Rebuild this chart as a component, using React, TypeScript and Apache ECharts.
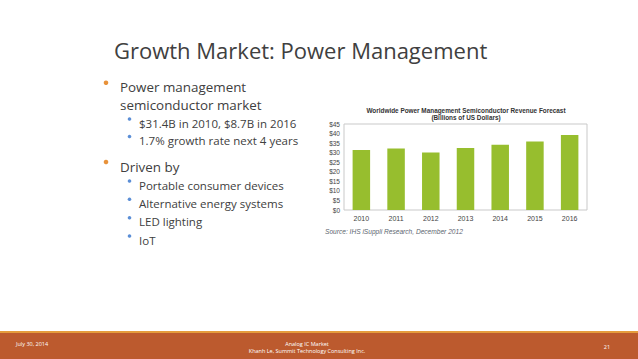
import React, { useEffect, useRef } from "react";
import * as echarts from "echarts";

const years = ["2010", "2011", "2012", "2013", "2014", "2015", "2016"];
const revenue = [31.4, 32.2, 30.1, 32.5, 34.1, 35.9, 39.2];

const slideTitle = "Growth Market: Power Management";
const chartTitle = ["Worldwide Power Management Semiconductor Revenue Forecast", "(Billions of US Dollars)"];
const sourceNote = "Source: IHS iSuppli Research, December 2012";
const mainBullets = [
  { lines: ["Power management", "semiconductor market"], subs: ["$31.4B in 2010, $8.7B in 2016", "1.7% growth rate next 4 years"] },
  { lines: ["Driven by"], subs: ["Portable consumer devices", "Alternative energy systems", "LED lighting", "IoT"] },
];
const footer = { date: "July 30, 2014", center: ["Analog IC Market", "Khanh Le, Summit Technology Consulting Inc."], page: "21" };

export default function App() {
  const ref = useRef<HTMLDivElement>(null);
  useEffect(() => {
    if (!ref.current) return;
    const chart = echarts.init(ref.current, undefined, { renderer: "svg" });
    const textColor = "#404040";
    const graphics: any[] = [];
    // slide title
    graphics.push({
      type: "text", x: 114, y: 50,
      style: { text: slideTitle, font: "22px 'Open Sans'", fill: textColor, textAlign: "left", textVerticalAlign: "middle" },
    });
    // bullets
    const mainY = [[87.3, 105.2], [166.5]];
    const subY = [[123, 140.5], [185, 203.3, 221.7, 240]];
    mainBullets.forEach((b, i) => {
      graphics.push({ type: "circle", shape: { cx: 106, cy: mainY[i][0] - 4.5, r: 2.3 }, style: { fill: "#E8923A" } });
      b.lines.forEach((l, j) => {
        graphics.push({
          type: "text", x: 120, y: mainY[i][j],
          style: { text: l, font: "13.4px 'Open Sans'", fill: textColor, textVerticalAlign: "middle" },
        });
      });
      b.subs.forEach((s, j) => {
        graphics.push({ type: "circle", shape: { cx: 129.5, cy: subY[i][j] - 4, r: 1.8 }, style: { fill: "#5B8ED6" } });
        graphics.push({
          type: "text", x: 139, y: subY[i][j],
          style: { text: s, font: "11.5px 'Open Sans'", fill: textColor, textVerticalAlign: "middle" },
        });
      });
    });
    // chart titles
    chartTitle.forEach((t, i) => {
      graphics.push({
        type: "text", x: 466, y: 110 + i * 7,
        style: { text: t, font: "bold 6.4px 'Liberation Sans'", fill: "#333", textAlign: "center", textVerticalAlign: "middle" },
      });
    });
    graphics.push({
      type: "text", x: 325, y: 231,
      style: { text: sourceNote, font: "italic 6.6px 'Liberation Sans'", fill: "#5d6670", textVerticalAlign: "middle" },
    });
    // footer
    graphics.push({ type: "rect", shape: { x: 0, y: 331, width: 638, height: 2 }, style: { fill: "#E59C3D" } });
    graphics.push({ type: "rect", shape: { x: 0, y: 333, width: 638, height: 26 }, style: { fill: "#BC5A2E" } });
    graphics.push({
      type: "text", x: 16, y: 344,
      style: { text: footer.date, font: "5.5px 'Open Sans'", fill: "#fff", textVerticalAlign: "middle" },
    });
    footer.center.forEach((t, i) => {
      graphics.push({
        type: "text", x: 307, y: 343.5 + i * 7,
        style: { text: t, font: "5.5px 'Open Sans'", fill: "#fff", textAlign: "center", textVerticalAlign: "middle" },
      });
    });
    graphics.push({
      type: "text", x: 607, y: 347,
      style: { text: footer.page, font: "5.5px 'Open Sans'", fill: "#fff", textAlign: "center", textVerticalAlign: "middle" },
    });

    chart.setOption({
      animation: false,
      backgroundColor: "#ffffff",
      grid: { left: 344, top: 124, width: 243, height: 86, show: true, borderColor: "#c9c9c9", borderWidth: 1, backgroundColor: "transparent" },
      xAxis: {
        type: "category", data: years,
        axisLine: { show: false }, axisTick: { show: false },
        axisLabel: { fontSize: 7, color: "#444", fontFamily: "Liberation Sans", margin: 5 },
      },
      yAxis: {
        type: "value", min: 0, max: 45, interval: 5,
        axisLine: { show: false }, axisTick: { show: false }, splitLine: { show: false },
        axisLabel: { fontSize: 6.5, color: "#444", fontFamily: "Liberation Sans", margin: 4, formatter: (v: number) => "$" + v },
      },
      series: [{ type: "bar", data: revenue, barWidth: 17.5, itemStyle: { color: "#97BE2E" } }],
      graphic: graphics,
    });
    return () => chart.dispose();
  }, []);
  return (
    <div style={{ position: "fixed", left: 0, top: 0, width: 638, height: 359, background: "#fff" }}>
      <div ref={ref} style={{ width: 638, height: 359 }} />
    </div>
  );
}
